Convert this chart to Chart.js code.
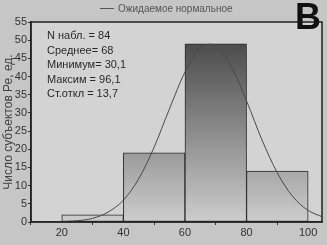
<!DOCTYPE html>
<html>
<head>
<meta charset="utf-8">
<script src="https://cdn.jsdelivr.net/npm/chart.js@4/dist/chart.umd.min.js"></script>
<style>
  body { margin: 0; background: #c6c6c6; }
  #wrap { width: 327px; height: 245px; }
</style>
</head>
<body>
<div id="wrap"><canvas id="histChart" width="327" height="245"></canvas></div>
<script>
// histogram bins (centres) and counts
const binCenters = [30, 50, 70, 90];
const binCounts = [2, 19, 49, 14];

// expected normal curve
const curveX = [10, 15, 20, 25, 30, 35, 40, 45, 50, 55, 60, 65, 68, 70, 75, 80, 85, 90, 95, 100, 105];
const curveY = [0, 0, 0.1, 0.35, 1, 2.7, 6, 11.9, 20.6, 31.2, 41.2, 47.8, 48.9, 48.4, 42.9, 33.3, 22.6, 13.5, 7, 3.2, 1.3];

const xTicks = [20, 40, 60, 80, 100];
const statLines = ['N набл. = 84', 'Среднее= 68', 'Минимум= 30,1', 'Максим = 96,1', 'Ст.откл = 13,7'];
const legendText = 'Ожидаемое нормальное';
const panelLetter = 'В';

const FONT = "'Liberation Sans Narrow', 'Liberation Sans', Arial, sans-serif";

const decor = {
    id: 'decor',
    beforeDraw(chart) {
        const { ctx, chartArea: a } = chart;
        ctx.save();
        ctx.fillStyle = '#c6c6c6';
        ctx.fillRect(0, 0, chart.width, chart.height);
        ctx.fillStyle = '#d3d3d3';
        ctx.fillRect(a.left, a.top, a.right - a.left, a.bottom - a.top);
        ctx.restore();
    },
    afterDraw(chart) {
        const { ctx, chartArea: a } = chart;
        ctx.save();
        // frame
        ctx.strokeStyle = '#222';
        ctx.lineWidth = 1.5;
        ctx.strokeRect(a.left, a.top, a.right - a.left, a.bottom - a.top);

        // stats box text
        ctx.fillStyle = '#2a2a2a';
        ctx.font = "11px 'Liberation Sans', Arial, sans-serif";
        ctx.textBaseline = 'middle';
        statLines.forEach(function (s, i) {
            ctx.fillText(s, 47, 36 + i * 14.5);
        });

        // legend
        ctx.strokeStyle = '#555';
        ctx.lineWidth = 1;
        ctx.beginPath();
        ctx.moveTo(100, 8.5);
        ctx.lineTo(114, 8.5);
        ctx.stroke();
        ctx.fillStyle = '#555';
        ctx.font = "10px 'Liberation Sans', Arial, sans-serif";
        ctx.fillText(legendText, 118, 9);

        // panel letter
        ctx.fillStyle = '#111';
        ctx.font = "bold 36px 'Liberation Sans', Arial, sans-serif";
        ctx.textBaseline = 'alphabetic';
        ctx.fillText(panelLetter, 295, 29);
        ctx.restore();
    }
};

function barGradient(context) {
    const chart = context.chart;
    const a = chart.chartArea;
    if (!a) return '#888';
    const g = chart.ctx.createLinearGradient(0, a.top, 0, a.bottom);
    g.addColorStop(0, '#3c3c3c');
    g.addColorStop(1, '#cdcdcd');
    return g;
}

const ctx = document.getElementById('histChart').getContext('2d');
new Chart(ctx, {
    type: 'bar',
    data: {
        datasets: [{
            type: 'line',
            label: legendText,
            data: curveX.map((x, i) => ({ x: x, y: curveY[i] })),
            borderColor: '#4a4a4a',
            borderWidth: 1,
            pointRadius: 0,
            cubicInterpolationMode: 'monotone',
            fill: false,
            order: 0
        }, {
            label: 'Число',
            data: binCenters.map((x, i) => ({ x: x, y: binCounts[i] })),
            backgroundColor: barGradient,
            borderColor: '#2a2a2a',
            borderWidth: 1,
            borderSkipped: false,
            barPercentage: 1,
            categoryPercentage: 1,
            order: 1
        }]
    },
    options: {
        responsive: false,
        animation: false,
        layout: { padding: { top: 22, right: 5, left: 0, bottom: 0 } },
        plugins: {
            legend: { display: false },
            tooltip: { enabled: false }
        },
        scales: {
            x: {
                type: 'linear',
                min: 10,
                max: 104.5,
                offset: false,
                afterBuildTicks: function (scale) {
                    scale.ticks = xTicks.map(v => ({ value: v }));
                },
                afterFit: function (scale) { scale.height = 23; },
                grid: { drawOnChartArea: false, tickLength: 3, color: '#333' },
                border: { color: '#222', width: 1.5 },
                ticks: {
                    padding: 1,
                    color: '#333',
                    font: { family: FONT, size: 11 },
                    maxRotation: 0
                }
            },
            y: {
                min: 0,
                max: 55,
                afterFit: function (scale) { scale.width = 31; },
                grid: { drawOnChartArea: false, tickLength: 3, color: '#333' },
                border: { color: '#222', width: 1.5 },
                ticks: {
                    stepSize: 5,
                    padding: 1,
                    color: '#333',
                    font: { family: FONT, size: 11 }
                },
                title: {
                    display: true,
                    text: 'Число субъектов Ре, ед.',
                    color: '#444',
                    font: { family: "'Liberation Sans', Arial, sans-serif", size: 12 },
                    padding: { top: 1, bottom: 0 }
                }
            }
        }
    },
    plugins: [decor]
});
</script>
</body>
</html>
